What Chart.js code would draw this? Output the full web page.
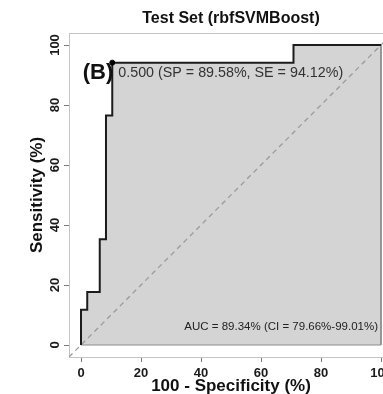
<!DOCTYPE html>
<html>
<head>
<meta charset="utf-8">
<title>ROC test set</title>
<script src="https://cdn.jsdelivr.net/npm/chart.js@4.4.1/dist/chart.umd.min.js"></script>
<style>
  html, body { margin: 0; padding: 0; background: #fff; }
  #wrap { width: 383px; height: 394px; overflow: hidden; }
  canvas { display: block; }
</style>
</head>
<body>
<div id="wrap"><canvas id="rocChart" width="420" height="400"></canvas></div>
<script>
// ============================
// data
// ============================
const fpr = [0, 0, 2.08, 2.08, 6.25, 6.25, 8.33, 8.33, 10.42, 10.42, 70.83, 70.83, 100];
const tpr = [0, 11.76, 11.76, 17.65, 17.65, 35.29, 35.29, 76.47, 76.47, 94.12, 94.12, 100, 100];
const thrX = [10.42];
const thrY = [94.12];
const polyX = [100, 100, 0];
const polyY = [100, 0, 0];
const diagX = [-4, 104];
const diagY = [-4, 104];
const xTicks = [0, 20, 40, 60, 80, 100];
const yTicks = [0, 20, 40, 60, 80, 100];

const thrText = '0.500 (SP = 89.58%, SE = 94.12%)';
const aucText = 'AUC = 89.34% (CI = 79.66%-99.01%)';

const FONT = '"Liberation Sans", Arial, Helvetica, sans-serif';
Chart.defaults.font.family = FONT;

const toPts = (xs, ys) => xs.map((x, i) => ({ x: x, y: ys[i] }));

// ============================
// box + annotations
// ============================
const rocLabels = {
  id: 'rocLabels',
  beforeDatasetsDraw(chart) {
    const { ctx, chartArea: a } = chart;
    ctx.save();
    ctx.strokeStyle = '#c4c4c4';
    ctx.lineWidth = 1;
    ctx.strokeRect(a.left + 0.5, a.top + 0.5, a.right - a.left, a.bottom - a.top);
    ctx.restore();
  },
  afterDatasetsDraw(chart) {
    const { ctx } = chart;
    const xs = chart.scales.x, ys = chart.scales.y;
    const px = xs.getPixelForValue(thrX[0]);
    const py = ys.getPixelForValue(thrY[0]);
    ctx.save();
    ctx.textBaseline = 'middle';

    ctx.fillStyle = '#333';
    ctx.font = '14.3px ' + FONT;
    ctx.textAlign = 'left';
    ctx.fillText(thrText, px + 6, py + 10.5);

    ctx.fillStyle = '#111';
    ctx.font = 'bold 22px ' + FONT;
    ctx.textAlign = 'right';
    ctx.fillText('(B)', px + 1, py + 10.5);

    ctx.fillStyle = '#222';
    ctx.font = '11.5px ' + FONT;
    ctx.textAlign = 'right';
    ctx.fillText(aucText, xs.getPixelForValue(100) - 3, ys.getPixelForValue(0) - 18);
    ctx.restore();
  }
};

const axisGrid = { drawOnChartArea: false, drawTicks: true, tickLength: 5, color: '#7a7a7a', lineWidth: 1 };

new Chart(document.getElementById('rocChart'), {
  type: 'line',
  data: {
    datasets: [
      { // threshold point
        data: toPts(thrX, thrY),
        showLine: false,
        pointRadius: 2.5,
        pointBackgroundColor: '#000',
        pointBorderColor: '#000'
      },
      { // roc curve
        data: toPts(fpr, tpr),
        borderColor: '#1c1c1c',
        borderWidth: 2,
        pointRadius: 0,
        tension: 0,
        fill: 'origin',
        backgroundColor: '#d4d4d4'
      },
      { // polygon edge
        data: toPts(polyX, polyY),
        borderColor: '#8c8c8c',
        borderWidth: 1,
        pointRadius: 0,
        fill: false
      },
      { // chance line
        data: toPts(diagX, diagY),
        borderColor: '#9a9a9a',
        borderWidth: 1.3,
        borderDash: [5, 4],
        pointRadius: 0,
        fill: false
      }
    ]
  },
  options: {
    responsive: false,
    devicePixelRatio: 1,
    animation: false,
    layout: { padding: { top: 0, left: 0, right: 27, bottom: 0 } },
    plugins: {
      legend: { display: false },
      tooltip: { enabled: false },
      filler: { drawTime: 'beforeDatasetsDraw' },
      title: {
        display: true,
        fullSize: false,
        text: 'Test Set (rbfSVMBoost)',
        color: '#111',
        font: { size: 16, weight: 'bold' },
        padding: { top: 9.4, bottom: 4.4 }
      }
    },
    scales: {
      x: {
        type: 'linear',
        min: -4,
        max: 104,
        afterBuildTicks: s => { s.ticks = xTicks.map(v => ({ value: v })); },
        afterFit: s => { s.height = 43; },
        ticks: { font: { size: 13, weight: 'bold' }, color: '#1a1a1a', padding: 4, maxRotation: 0, autoSkip: false },
        grid: axisGrid,
        border: { display: false },
        title: {
          display: true,
          text: '100 - Specificity (%)',
          color: '#111',
          font: { size: 17, weight: 'bold' },
          padding: { top: 0, bottom: 3 }
        }
      },
      y: {
        type: 'linear',
        min: -4,
        max: 104,
        afterBuildTicks: s => { s.ticks = yTicks.map(v => ({ value: v })); },
        afterFit: s => { s.width = 69; },
        ticks: {
          font: { size: 13, weight: 'bold' }, color: '#1a1a1a', padding: -2,
          minRotation: 90, maxRotation: 90, crossAlign: 'center', autoSkip: false
        },
        grid: axisGrid,
        border: { display: false },
        title: {
          display: true,
          text: 'Sensitivity (%)',
          color: '#111',
          font: { size: 17, weight: 'bold' },
          padding: { top: 27, bottom: 0 }
        }
      }
    }
  },
  plugins: [rocLabels]
});
</script>
</body>
</html>
